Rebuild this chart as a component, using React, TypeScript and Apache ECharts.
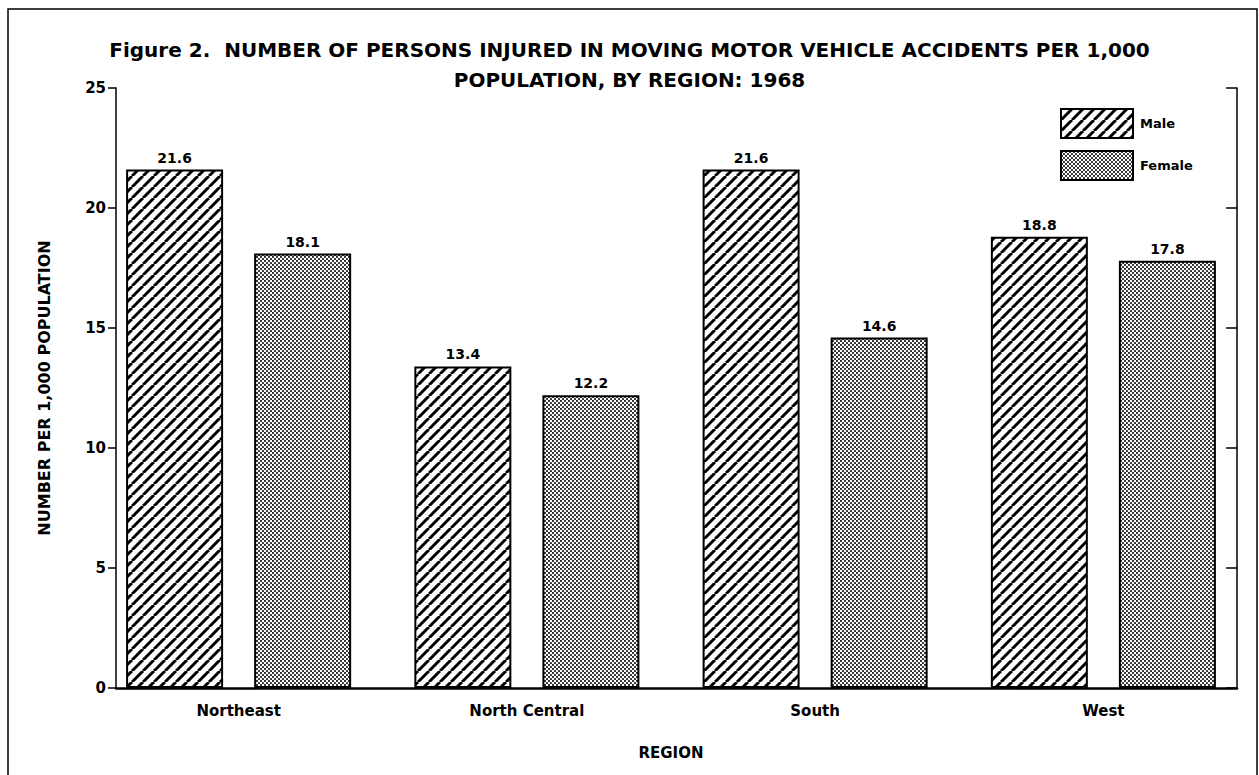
import React, { useEffect, useRef } from "react";
import * as echarts from "echarts";

const regions = ["Northeast", "North Central", "South", "West"];
const maleValues = [21.6, 13.4, 21.6, 18.8];
const femaleValues = [18.1, 12.2, 14.6, 17.8];
const yTicks = [0, 5, 10, 15, 20, 25];
const titleLines = [
  "Figure 2.  NUMBER OF PERSONS INJURED IN MOVING MOTOR VEHICLE ACCIDENTS PER 1,000",
  "POPULATION, BY REGION: 1968",
];

const FONT = "'DejaVu Sans', Verdana, sans-serif";

function makeHatch(): HTMLCanvasElement {
  const s = 11;
  const c = document.createElement("canvas");
  c.width = s;
  c.height = s;
  const ctx = c.getContext("2d")!;
  ctx.fillStyle = "#ffffff";
  ctx.fillRect(0, 0, s, s);
  ctx.strokeStyle = "#000000";
  ctx.lineWidth = 3;
  for (const x0 of [-s, 0, s]) {
    ctx.beginPath();
    ctx.moveTo(x0, s);
    ctx.lineTo(x0 + s, 0);
    ctx.stroke();
  }
  return c;
}

function makeStipple(): HTMLCanvasElement {
  const s = 4;
  const c = document.createElement("canvas");
  c.width = s;
  c.height = s;
  const ctx = c.getContext("2d")!;
  ctx.fillStyle = "#ffffff";
  ctx.fillRect(0, 0, s, s);
  ctx.fillStyle = "#222222";
  for (const [x, y] of [[1, 1], [3, 3]]) {
    ctx.beginPath();
    ctx.arc(x, y, 1.1, 0, Math.PI * 2);
    ctx.fill();
  }
  return c;
}

export default function App() {
  const ref = useRef<HTMLDivElement>(null);

  useEffect(() => {
    document.body.style.margin = "0";
    if (!ref.current) return;
    const chart = echarts.init(ref.current, undefined, { renderer: "svg" });

    const hatch = makeHatch();
    const stipple = makeStipple();
    const malePattern: any = { image: hatch, repeat: "repeat", imageWidth: hatch.width, imageHeight: hatch.height };
    const femalePattern: any = { image: stipple, repeat: "repeat", imageWidth: stipple.width, imageHeight: stipple.height };

    const labelStyle = {
      show: true,
      position: "top" as const,
      distance: 5,
      color: "#000",
      fontFamily: FONT,
      fontWeight: "bold" as const,
      fontSize: 14,
      formatter: (p: any) => Number(p.value).toFixed(1),
    };

    const titleStyle = {
      fontFamily: FONT,
      fontWeight: "bold" as const,
      fontSize: 20,
      color: "#000",
    };

    chart.setOption({
      animation: false,
      backgroundColor: "#ffffff",
      title: titleLines.map((t, i) => ({
        text: t,
        left: "center",
        top: 40 + i * 30,
        padding: 0,
        textStyle: titleStyle,
      })),
      legend: {
        orient: "vertical",
        left: 1055,
        top: 103,
        itemWidth: 72,
        itemHeight: 29,
        itemGap: 11,
        icon: "rect",
        textStyle: {
          fontFamily: FONT,
          fontWeight: "bold",
          fontSize: 13,
          color: "#000",
          padding: [10, 0, 0, 2],
        },
        data: ["Male", "Female"],
      },
      grid: [
        { left: 94.5, top: 88, width: 1153, height: 600 },
        { left: 116, top: 88, width: 1121, height: 600 },
      ],
      xAxis: [
        {
          type: "category",
          gridIndex: 0,
          data: regions,
          axisLine: { show: false },
          axisTick: { show: false },
          axisLabel: {
            margin: 15,
            color: "#000",
            fontFamily: FONT,
            fontWeight: "bold",
            fontSize: 15,
          },
          name: "REGION",
          nameLocation: "middle",
          nameGap: 57,
          nameTextStyle: {
            color: "#000",
            fontFamily: FONT,
            fontWeight: "bold",
            fontSize: 15,
          },
        },
        {
          type: "value",
          gridIndex: 1,
          min: 0,
          max: 1,
          axisLine: { show: true, onZero: false, lineStyle: { color: "#000", width: 2.5 } },
          axisTick: { show: false },
          axisLabel: { show: false },
          splitLine: { show: false },
        },
      ],
      yAxis: [
        {
          type: "value",
          gridIndex: 0,
          min: 0,
          max: 25,
          interval: 5,
          show: false,
          splitLine: { show: false },
        },
        {
          type: "value",
          gridIndex: 1,
          position: "left",
          min: yTicks[0],
          max: yTicks[yTicks.length - 1],
          interval: 5,
          axisLine: { show: true, lineStyle: { color: "#000", width: 1.5 } },
          axisTick: { show: true, length: 8, lineStyle: { color: "#000", width: 1.5 } },
          axisLabel: {
            margin: 10,
            color: "#000",
            fontFamily: FONT,
            fontWeight: "bold",
            fontSize: 15,
          },
          splitLine: { show: false },
          name: "NUMBER PER 1,000 POPULATION",
          nameLocation: "middle",
          nameRotate: 90,
          nameGap: 64,
          nameTextStyle: {
            color: "#000",
            fontFamily: FONT,
            fontWeight: "bold",
            fontSize: 16,
          },
        },
        {
          type: "value",
          gridIndex: 1,
          position: "right",
          min: 0,
          max: 25,
          interval: 5,
          axisLine: { show: true, lineStyle: { color: "#000", width: 1.5 } },
          axisTick: { show: true, inside: true, length: 11, lineStyle: { color: "#000", width: 1.5 } },
          axisLabel: { show: false },
          splitLine: { show: false },
        },
      ],
      graphic: [
        {
          type: "rect",
          shape: { x: 8, y: 9, width: 1249, height: 800 },
          style: { fill: "none", stroke: "#000", lineWidth: 1.5 },
          silent: true,
        },
      ],
      series: [
        {
          name: "Male",
          type: "bar",
          xAxisIndex: 0,
          yAxisIndex: 0,
          data: maleValues,
          barWidth: 97,
          barGap: "32%",
          itemStyle: { color: malePattern, borderColor: "#000", borderWidth: 2 },
          label: labelStyle,
        },
        {
          name: "Female",
          type: "bar",
          xAxisIndex: 0,
          yAxisIndex: 0,
          data: femaleValues,
          barWidth: 97,
          barGap: "32%",
          itemStyle: { color: femalePattern, borderColor: "#000", borderWidth: 2 },
          label: labelStyle,
        },
      ],
    });

    return () => {
      chart.dispose();
    };
  }, []);

  return <div ref={ref} style={{ width: 1259, height: 775 }} />;
}
